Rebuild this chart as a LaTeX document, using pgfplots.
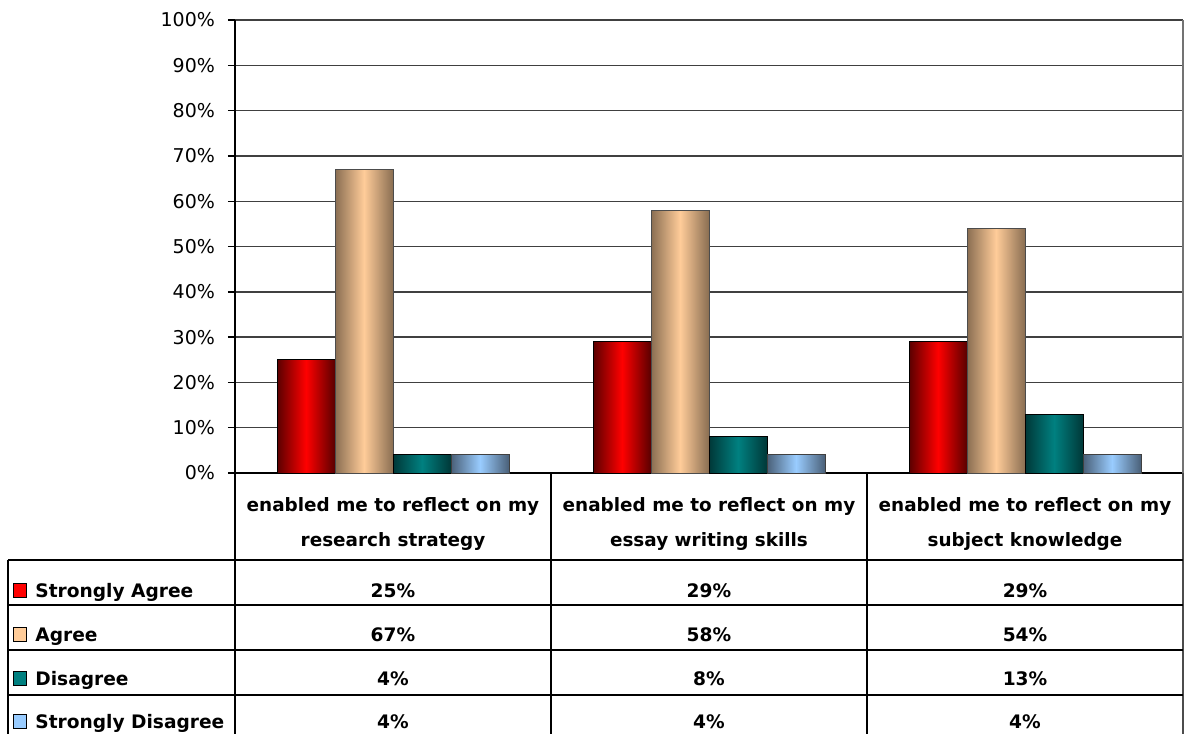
\documentclass[border=0pt]{standalone}
\usepackage{fontspec}
\setmainfont{DejaVu Sans}
\usepackage{pgfplots}
\pgfplotsset{compat=1.18}
\definecolor{saC}{HTML}{FF0000}\definecolor{saD}{HTML}{5A0000}
\definecolor{agC}{HTML}{FFCC99}\definecolor{agD}{HTML}{8A6E52}
\definecolor{diC}{HTML}{008080}\definecolor{diD}{HTML}{003838}
\definecolor{sdC}{HTML}{99CCFF}\definecolor{sdD}{HTML}{4A6078}
\pgfplotsset{
  sa/.style={draw=black, line width=0.5pt, left color=saD, right color=saD, middle color=saC, bar shift=-43.5pt},
  ag/.style={draw=black!70, line width=0.5pt, left color=agD, right color=agD, middle color=agC, bar shift=-14.5pt},
  di/.style={draw=black, line width=0.5pt, left color=diD, right color=diD, middle color=diC, bar shift=14.5pt},
  sd/.style={draw=black!75, line width=0.5pt, left color=sdD, right color=sdD, middle color=sdC, bar shift=43.5pt},
}
\begin{document}
\begin{tikzpicture}
\begin{axis}[
  at={(0,0)}, anchor=south west, name=ax,
  scale only axis, width=474pt, height=226.5pt,
  xmin=0, xmax=3, ymin=0, ymax=100,
  ybar, bar width=29pt,
  axis x line*=bottom, axis y line*=left,
  axis line style={black, line width=0.7pt},
  ytick={0,10,...,100},
  yticklabel={\pgfmathprintnumber{\tick}\%},
  /pgf/number format/assume math mode=true,
  yticklabel style={font=\fontsize{9.5}{11}\selectfont, xshift=-3pt},
  tick align=outside, major tick length=3.5pt,
  ytick style={black, line width=0.7pt},
  ymajorgrids, grid style={black!75, line width=0.7pt},
  xtick={0.5,1.5,2.5},
  xticklabels={{enabled me to reflect on my\\research strategy},{enabled me to reflect on my\\essay writing skills},{enabled me to reflect on my\\subject knowledge}},
  xtick style={draw=none},
  xticklabel style={font=\fontsize{9.2}{17.5}\selectfont\bfseries, align=center, anchor=center, yshift=-21.75pt},
  clip=false,
]
% Strongly Agree
\addplot[sa] coordinates {(0.5,25)};
\addplot[sa] coordinates {(1.5,29)};
\addplot[sa] coordinates {(2.5,29)};
% Agree
\addplot[ag] coordinates {(0.5,67)};
\addplot[ag] coordinates {(1.5,58)};
\addplot[ag] coordinates {(2.5,54)};
% Disagree
\addplot[di] coordinates {(0.5,4)};
\addplot[di] coordinates {(1.5,8)};
\addplot[di] coordinates {(2.5,13)};
% Strongly Disagree
\addplot[sd] coordinates {(0.5,4)};
\addplot[sd] coordinates {(1.5,4)};
\addplot[sd] coordinates {(2.5,4)};
\draw[black!55, line width=1pt] (rel axis cs:1,0) -- (rel axis cs:1,1);
\end{axis}
\begin{scope}[x=0.5pt,y=-0.5pt,shift={(-117.5pt,236.5pt)}]
  \draw[line width=0.6pt] (235,473) -- (235,734);
  \draw[line width=0.6pt] (551,473) -- (551,734);
  \draw[line width=0.6pt] (867,473) -- (867,734);
  \draw[line width=0.8pt, black!70] (1183,473) -- (1183,734);
  \draw[line width=0.6pt] (8,560) -- (8,734);
  \foreach \y in {560,605,650,695} \draw[line width=0.6pt] (8,\y) -- (1183,\y);
  \begin{scope}[every node/.style={font=\fontsize{9.3}{11}\selectfont\bfseries, inner sep=0pt}]
    \filldraw[fill=saC, draw=black, line width=0.5pt] (14,583) rectangle (27,597);
    \node[anchor=base west] at (35,597) {Strongly Agree};
    \filldraw[fill=agC, draw=black, line width=0.5pt] (14,627) rectangle (27,641);
    \node[anchor=base west] at (35,641) {Agree};
    \filldraw[fill=diC, draw=black, line width=0.5pt] (14,671) rectangle (27,685);
    \node[anchor=base west] at (35,685) {Disagree};
    \filldraw[fill=sdC, draw=black, line width=0.5pt] (14,714) rectangle (27,728);
    \node[anchor=base west] at (35,728) {Strongly Disagree};
    \node[anchor=base] at (393,597) {25\%};
    \node[anchor=base] at (709,597) {29\%};
    \node[anchor=base] at (1025,597) {29\%};
    \node[anchor=base] at (393,641) {67\%};
    \node[anchor=base] at (709,641) {58\%};
    \node[anchor=base] at (1025,641) {54\%};
    \node[anchor=base] at (393,685) {4\%};
    \node[anchor=base] at (709,685) {8\%};
    \node[anchor=base] at (1025,685) {13\%};
    \node[anchor=base] at (393,728) {4\%};
    \node[anchor=base] at (709,728) {4\%};
    \node[anchor=base] at (1025,728) {4\%};
  \end{scope}
  \pgfresetboundingbox
  \path[use as bounding box] (0,0) rectangle (1192,734);
\end{scope}
\end{tikzpicture}
\end{document}
